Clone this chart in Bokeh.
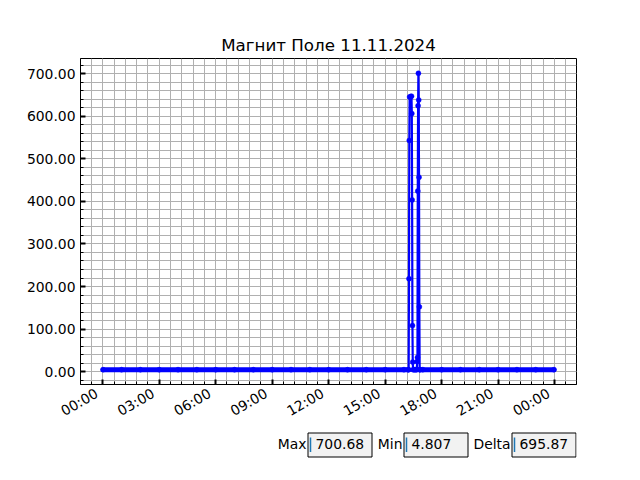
import math
import pandas as pd
from bokeh.plotting import figure
from bokeh.models import (Range1d, FixedTicker, DatetimeTickFormatter,
                          PrintfTickFormatter, ColumnDataSource)
from bokeh.layouts import column
from bokeh.embed import file_html
from bokeh.resources import INLINE
from bokeh.core.properties import value

DAY = "2024-11-11"
TITLE = "Магнит Поле 11.11.2024"

# ---- data ----
pre_times = ["00:01", "01:00", "02:00", "03:00", "04:00", "05:00", "06:00", "07:00",
             "08:00", "09:00", "10:00", "11:00", "12:00", "13:00", "14:00", "15:00",
             "16:00", "16:14"]
pre_vals = [4.85, 4.84, 4.83, 4.82, 4.82, 4.81, 4.81, 4.82, 4.83, 4.84, 4.85, 4.84,
            4.83, 4.82, 4.81, 4.81, 4.82, 4.83]

event_times = ["16:15", "16:16", "16:17", "16:18", "16:21", "16:24", "16:25", "16:26",
               "16:27", "16:28", "16:29", "16:32", "16:35", "16:38", "16:41", "16:42",
               "16:43", "16:44", "16:45", "16:46", "16:47", "16:48", "16:49", "16:50"]
event_vals = [4.83, 218.4, 543.1, 645.2, 646.1, 646.9, 606.2, 403.5,
              108.4, 22.6, 4.86, 4.84, 4.83, 4.84, 4.85, 23.8,
              33.5, 424.1, 624.5, 700.68, 638.2, 456.7, 152.3, 4.88]

post_times = ["16:51", "17:00", "18:00", "19:00", "20:00", "21:00", "22:00", "23:00", "23:58"]
post_vals = [4.86, 4.84, 4.82, 4.81, 4.807, 4.81, 4.82, 4.83, 4.84]

x_major_hours = [0, 3, 6, 9, 12, 15, 18, 21, 24]
y_major = [0, 100, 200, 300, 400, 500, 600, 700]
box_names = ["Max", "Min", "Delta"]

# ---- helpers ----
day0 = pd.Timestamp(DAY)


def to_ms(hhmm):
    return (pd.Timestamp(DAY + " " + hhmm)).value / 1e6


def hours_ms(h):
    return (day0 + pd.Timedelta(minutes=h * 60)).value / 1e6


pre_x = [to_ms(t) for t in pre_times]
ev_x = [to_ms(t) for t in event_times]
post_x = [to_ms(t) for t in post_times]
all_x = pre_x + ev_x + post_x
all_y = pre_vals + event_vals + post_vals

xmin, xmax = min(all_x), max(all_x)
ymin, ymax = min(all_y), max(all_y)
xpad = 0.05 * (xmax - xmin)
ypad = 0.05 * (ymax - ymin)

FONT = "DejaVu Sans"
BLUE = "#0000ff"
GRID = "#b0b0b0"

FL, FW, FR = 80, 496, 48

p = figure(x_axis_type="datetime", output_backend="svg", toolbar_location=None,
           frame_width=FW, frame_height=326,
           min_border_left=FL, min_border_right=FR, min_border_top=58, min_border_bottom=44,
           x_range=Range1d(xmin - xpad, xmax + xpad),
           y_range=Range1d(ymin - ypad, ymax + ypad),
           title=TITLE)
p.background_fill_color = "white"
p.border_fill_color = "white"
p.outline_line_color = "black"
p.outline_line_width = 1

p.title.text_font = FONT
p.title.text_font_size = "16.7px"
p.title.text_font_style = "normal"
p.title.align = "center"
p.title.text_color = "black"
p.title.standoff = 8

# ticks
x_minor = [hours_ms(-1.2 + 0.6 * i) for i in range(0, 45)]
xt = FixedTicker(ticks=[hours_ms(h) for h in x_major_hours], minor_ticks=x_minor)
y_minor = [v for v in range(-20, 740, 20)]
yt = FixedTicker(ticks=y_major, minor_ticks=y_minor)
p.xaxis.ticker = xt
p.yaxis.ticker = yt
p.xgrid.ticker = xt
p.ygrid.ticker = yt

fmt = "%H:%M\u2002"
p.xaxis.formatter = DatetimeTickFormatter(minutes=fmt, hourmin=fmt, hours=fmt, days=fmt,
                                          months=fmt, years=fmt)
p.yaxis.formatter = PrintfTickFormatter(format="%.2f")
p.xaxis.major_label_orientation = math.pi / 6

for ax in (p.xaxis[0], p.yaxis[0]):
    ax.major_label_text_font = FONT
    ax.major_label_text_font_size = "13.9px"
    ax.major_label_text_color = "black"
    ax.axis_line_color = "black"
    ax.major_tick_in = 5
    ax.major_tick_out = 0
    ax.major_tick_line_width = 2
    ax.major_tick_line_color = "black"
    ax.minor_tick_in = 3
    ax.minor_tick_out = 0
    ax.minor_tick_line_width = 1
    ax.minor_tick_line_color = "black"
    ax.major_label_standoff = 5
p.xaxis.major_label_standoff = 4

for g in (p.xgrid[0], p.ygrid[0]):
    g.grid_line_color = GRID
    g.grid_line_width = 1
    g.minor_grid_line_color = GRID
    g.minor_grid_line_width = 1

# thick band for the dense baseline samples
p.line(pre_x, pre_vals, line_color=BLUE, line_width=5, line_cap="round", line_join="round")
p.line(post_x, post_vals, line_color=BLUE, line_width=5, line_cap="round", line_join="round")
# series
src = ColumnDataSource(dict(x=all_x, y=all_y))
p.line("x", "y", source=src, line_color=BLUE, line_width=2.2)
p.scatter("x", "y", source=src, size=5, fill_color=BLUE, line_color=BLUE, line_width=0.5)

# ---- text boxes below (data units == page pixels) ----
vmax = max(all_y)
vmin = min(all_y)
delta = vmax - vmin
box_texts = ["%.2f" % vmax, " %.3f" % vmin, "%.2f" % delta]

QH = 50
q = figure(frame_width=FW, frame_height=QH, output_backend="svg", toolbar_location=None,
           x_range=Range1d(FL, FL + FW), y_range=Range1d(0, QH),
           min_border_left=FL, min_border_right=FR, min_border_top=0, min_border_bottom=0,
           x_axis_location=None, y_axis_location=None)
q.outline_line_color = None
q.grid.visible = False
q.background_fill_color = "white"
q.border_fill_color = "white"

box_left = [307.5, 403.5, 511.5]
box_right = [371.5, 467.5, 575.5]
q.quad(left=box_left, right=box_right, bottom=21.5, top=45.5,
       fill_color="#f2f2f2", line_color="black", line_width=1)
q.text(x=[b - 1.5 for b in box_left], y=[34.5] * 3, text=box_names,
       text_font=value(FONT), text_font_size=value("13.9px"), text_color="black",
       text_align="right", text_baseline="middle")
q.text(x=[b + 7.5 for b in box_left], y=[34.5] * 3, text=box_texts,
       text_font=value(FONT), text_font_size=value("13.9px"), text_color="black",
       text_align="left", text_baseline="middle")
q.segment(x0=[b + 2.5 for b in box_left], x1=[b + 2.5 for b in box_left],
          y0=[26.5] * 3, y1=[41] * 3, line_color="#1f77b4", line_width=1.5)

layout = column(p, q)
open("out.html", "w").write(file_html(layout, INLINE))
